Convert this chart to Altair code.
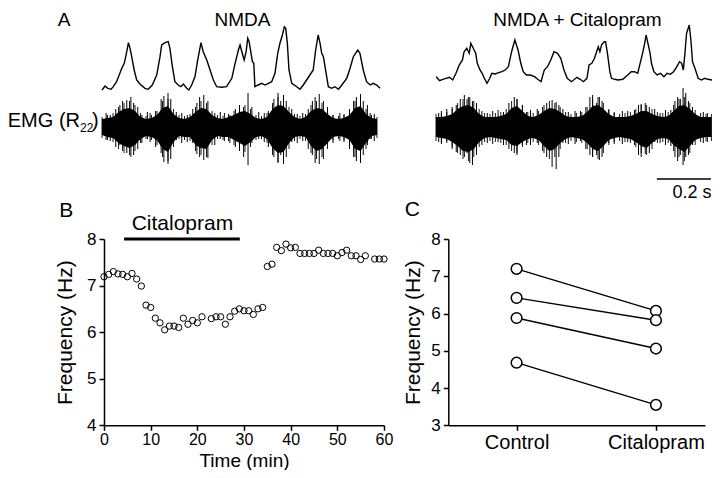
import altair as alt
import pandas as pd

FONT = "Liberation Sans"

# ---------------- Panel A: traces (time in ms, amplitude in arbitrary units) ----------------
nmda_time_ms = [0, 11, 21, 33, 41, 53, 65, 72, 81, 90, 96, 102, 108, 117, 126, 138, 156, 168, 183, 199,
                211, 217, 229, 241, 247, 256, 265, 277, 287, 296, 308, 316, 326, 338, 348, 360, 368, 381, 393, 405,
                417, 435, 453, 472, 484, 496, 502, 510, 517, 524, 530, 535, 542, 547, 552, 556, 568, 581, 593, 605,
                617, 629, 639, 647, 656, 663, 668, 674, 680, 690, 708, 720, 732, 744, 756, 768, 777, 786, 793, 799,
                805, 811, 823, 835, 847, 860, 872, 890, 902, 914, 930, 938, 950, 962, 975, 986, 999, 1011]
nmda_trace = [37, 41, 38.7, 37.7, 40.3, 45.3, 53.7, 58.7, 63.7, 75.3, 84.3, 78.7, 70.3, 57, 47, 43, 38.7, 37.7, 42, 52,
              70.3, 82, 84.3, 85.3, 78.7, 60.3, 45.3, 42, 40.3, 43, 38.7, 37, 42, 50.3, 67, 84.3, 75.3, 67, 57, 47,
              40.3, 39.7, 40.3, 48.7, 63.7, 77, 82, 73.7, 67, 75.3, 88.7, 85.3, 73.7, 65.3, 63.7, 40.3, 42, 43.7, 42, 43.7,
              45.3, 53.7, 73.7, 83.7, 92, 100.3, 98.7, 83.7, 57, 43.7, 40.3, 37.7, 42, 47, 52, 57, 77, 92, 83.7, 73.7,
              70.3, 60.3, 40.3, 38.7, 40.3, 37.7, 42, 48.7, 58.7, 70.3, 77, 73.7, 57, 45.3, 42, 43.7, 42, 38.7]

cit_time_ms = [1, 13, 25, 37, 50, 62, 74, 86, 98, 104, 114, 123, 129, 138, 147, 153, 163, 171, 179, 189,
               199, 207, 219, 232, 244, 256, 268, 280, 292, 304, 314, 323, 335, 349, 365, 377, 389, 401, 413, 425,
               437, 450, 462, 474, 486, 502, 522, 534, 546, 559, 567, 577, 587, 595, 601, 607, 613, 623, 628, 635,
               644, 650, 662, 674, 692, 710, 723, 735, 747, 756, 765, 773, 778, 785, 793, 798, 807, 819, 832, 844,
               856, 868, 880, 892, 902, 910, 916, 922, 928, 938, 944, 950, 959, 971, 983, 995, 1007, 1023]
cit_trace = [50.3, 46.3, 47.7, 48.7, 49.7, 47, 53.7, 62, 67, 75.3, 78.7, 73.7, 83.7, 78.7, 73.7, 63.7, 57, 53.7, 48.7, 43.7,
             48.7, 53.7, 53, 54.3, 55.3, 57, 60.3, 75.3, 87, 77, 63.7, 55.3, 52, 52, 50.3, 47.7, 45.3, 57, 60.3, 67,
             75.3, 73.7, 68.7, 57, 48.7, 45.3, 49.7, 47.7, 45.3, 48.7, 62, 63.7, 68.7, 75.3, 80.3, 75.3, 82, 85.3, 85.3, 73.7,
             55.3, 48.7, 47.7, 47, 47.7, 52, 55.3, 55.3, 53.7, 63.7, 73.7, 83.7, 92, 83.7, 73.7, 63.7, 55.3, 52, 53.7, 50.3,
             53.7, 52.7, 55.3, 60.3, 65.3, 63.7, 57, 73.7, 93.7, 102, 87, 65.3, 58.7, 48.7, 47, 48.7, 47.7, 47]

# EMG: outer extent of the trace every 20 ms, plus the dense solid core
emg_time_nmda = [0, 20, 40, 60, 80, 100, 120, 140, 160, 180, 200, 220, 240, 260, 280, 300, 320, 340, 360, 380,
                 400, 420, 440, 460, 480, 500, 520, 540, 560, 580, 600, 620, 640, 660, 680, 700, 720, 740, 760, 780,
                 800, 820, 840, 860, 880, 900, 920, 940, 960, 980, 1000]
emg_up_nmda = [10, 12, 14, 20, 24, 26, 22, 14, 11, 12, 16, 26, 28, 18, 12, 11, 13, 20, 26, 24,
               16, 12, 11, 13, 16, 20, 22, 18, 12, 11, 14, 24, 30, 28, 20, 13, 11, 13, 22, 26,
               24, 18, 12, 11, 12, 16, 26, 28, 18, 12, 10]
emg_lo_nmda = [-11, -13, -15, -22, -26, -28, -24, -16, -12, -13, -18, -30, -34, -20, -12, -13, -14, -24, -28, -30,
               -18, -12, -13, -14, -18, -22, -25, -20, -13, -12, -16, -28, -35, -33, -22, -14, -12, -14, -26, -32,
               -30, -22, -13, -12, -13, -18, -30, -32, -22, -12, -11]
core_up_nmda = [8, 9, 10, 15, 18, 19, 16, 10, 8, 9, 12, 19, 21, 13, 9, 8, 10, 15, 19, 18,
                12, 9, 8, 10, 12, 15, 16, 13, 9, 8, 10, 18, 22, 21, 15, 10, 8, 10, 16, 19,
                18, 13, 9, 8, 9, 12, 19, 21, 13, 9, 8]
core_lo_nmda = [-8, -10, -11, -16, -19, -21, -18, -12, -9, -10, -13, -22, -25, -15, -9, -10, -10, -18, -21, -22,
                -13, -9, -10, -10, -13, -16, -19, -15, -10, -9, -12, -21, -26, -25, -16, -10, -9, -10, -19, -24,
                -22, -16, -10, -9, -10, -13, -22, -24, -16, -9, -8]
spike_t_nmda = [15, 50, 75, 90, 105, 115, 130, 175, 215, 225, 240, 250, 290, 345, 355, 370, 385, 445, 500,
                515, 531, 590, 625, 640, 660, 670, 730, 765, 775, 790, 805, 865, 915, 925, 940, 950, 990,
                30, 65, 145, 165, 195, 270, 310, 330, 410, 430, 465, 485, 545, 570, 605, 650, 690, 710,
                750, 820, 840, 880, 900, 965, 975]
spike_hi_nmda = [14, 18, 26, 27, 30, 24, 20, 14, 28, 31, 34, 28, 14, 24, 30, 32, 26, 14, 22,
                 20, 34, 14, 28, 34, 32, 26, 14, 26, 30, 33, 26, 14, 26, 30, 33, 26, 13,
                 12, 22, 12, 15, 16, 15, 12, 18, 14, 15, 12, 18, 20, 15, 16, 26, 18, 13,
                 18, 20, 12, 13, 18, 22, 14]
spike_lo_nmda = [-13, -20, -24, -26, -30, -28, -22, -15, -26, -35, -37, -32, -16, -27, -30, -33, -31, -14, -24,
                 -30, -38, -15, -30, -36, -37, -30, -14, -28, -36, -37, -32, -14, -30, -34, -36, -28, -14,
                 -14, -18, -16, -12, -20, -13, -15, -16, -18, -12, -16, -20, -16, -12, -20, -28, -15, -16,
                 -22, -16, -16, -15, -22, -18, -12]

emg_time_cit = [0, 20, 40, 60, 80, 100, 120, 140, 160, 180, 200, 220, 240, 260, 280, 300, 320, 340, 360, 380,
                400, 420, 440, 460, 480, 500, 520, 540, 560, 580, 600, 620, 640, 660, 680, 700, 720, 740, 760, 780,
                800, 820, 840, 860, 880, 900, 920, 940, 960, 980, 1000, 1020]
emg_up_cit = [13, 14, 15, 18, 24, 28, 30, 26, 18, 14, 13, 14, 15, 18, 26, 28, 22, 15, 14, 16,
              22, 26, 24, 20, 15, 13, 14, 15, 20, 28, 30, 24, 17, 14, 13, 14, 15, 18, 22, 22,
              18, 15, 14, 15, 22, 28, 30, 24, 17, 14, 13, 13]
emg_lo_cit = [-14, -15, -16, -20, -26, -32, -34, -30, -20, -15, -14, -15, -16, -18, -24, -26, -20, -16, -15, -18,
              -26, -32, -30, -22, -16, -14, -15, -16, -22, -30, -32, -26, -18, -15, -14, -15, -16, -20, -26, -28,
              -22, -16, -15, -16, -24, -30, -34, -26, -18, -15, -14, -14]
core_up_cit = [10, 10, 11, 13, 18, 21, 22, 19, 13, 10, 10, 10, 11, 13, 19, 21, 16, 11, 10, 12,
               16, 19, 18, 15, 11, 10, 10, 11, 15, 21, 22, 18, 13, 10, 10, 10, 11, 13, 16, 16,
               13, 11, 10, 11, 16, 21, 22, 18, 13, 10, 10, 10]
core_lo_cit = [-10, -11, -12, -15, -19, -24, -25, -22, -15, -11, -10, -11, -12, -13, -18, -19, -15, -12, -11, -13,
               -19, -24, -22, -16, -12, -10, -11, -12, -16, -22, -24, -19, -13, -11, -10, -11, -12, -15, -19, -21,
               -16, -12, -11, -12, -18, -22, -25, -19, -13, -11, -10, -10]
spike_t_cit = [20, 60, 90, 105, 125, 135, 150, 210, 270, 290, 300, 350, 410, 430, 445, 455, 515, 570, 580,
               605, 615, 690, 750, 760, 790, 850, 885, 895, 915, 925, 935, 990,
               10, 40, 75, 115, 170, 190, 230, 250, 320, 335, 375, 395, 470, 490, 535, 555, 595, 640,
               660, 710, 735, 775, 810, 830, 870, 905, 950, 1005]
spike_hi_cit = [16, 20, 28, 32, 30, 26, 24, 16, 24, 30, 28, 17, 24, 27, 25, 22, 16, 30, 32,
                30, 26, 16, 22, 23, 20, 17, 26, 30, 39, 34, 26, 15,
                14, 18, 22, 28, 16, 14, 17, 15, 22, 15, 18, 20, 18, 15, 16, 20, 24, 18,
                15, 16, 17, 24, 18, 14, 17, 28, 20, 14]
spike_lo_cit = [-17, -22, -28, -30, -36, -38, -28, -17, -22, -26, -28, -18, -30, -40, -42, -30, -17, -28, -30,
                -33, -30, -17, -28, -30, -26, -18, -30, -34, -38, -30, -28, -16,
                -15, -14, -25, -26, -18, -16, -15, -18, -18, -18, -16, -24, -16, -17, -14, -22, -28, -16,
                -17, -15, -18, -27, -15, -16, -19, -28, -18, -15]

scalebar_ms = [818, 1018]  # 0.2 s

# ---------------- Panel B: frequency time course ----------------
time_min = [0, 1, 2, 3, 4, 5, 6, 7, 8, 9, 10, 11, 12, 13, 14, 15, 16, 17, 18, 19, 20, 21,
            23, 24, 25, 26, 27, 28, 29, 30, 31, 32, 33, 34, 35, 36, 37, 38, 39, 40,
            41, 42, 43, 44, 45, 46, 47, 48, 49, 50, 51, 52, 53, 54, 55, 56, 58, 59, 60]
freq_hz = [7.19, 7.24, 7.30, 7.25, 7.24, 7.19, 7.26, 7.14, 6.99, 6.58, 6.53, 6.30, 6.20, 6.05, 6.13, 6.13, 6.10,
           6.30, 6.17, 6.25, 6.20, 6.33,
           6.29, 6.33, 6.33, 6.17, 6.33, 6.45, 6.50, 6.46, 6.46, 6.38, 6.50, 6.53, 7.41, 7.46, 7.82, 7.75, 7.89, 7.81,
           7.82, 7.69, 7.69, 7.69, 7.69, 7.76, 7.69, 7.69, 7.69, 7.64, 7.71, 7.76, 7.64, 7.64, 7.56, 7.64, 7.57, 7.57, 7.57]
drug_start_min = [4.3]
drug_end_min = [29.1]
drug_level_hz = [8.0]

# ---------------- Panel C: paired comparison ----------------
subjects = ["s1", "s2", "s3", "s4"]
control_hz = [7.20, 6.42, 5.88, 4.68]
citalopram_hz = [6.07, 5.82, 5.06, 3.55]
condition_names = ["Control", "Citalopram"]

# ---------------- scales (explicit domains and pixel ranges) ----------------
AL_X = alt.Scale(domain=[0, 1000], range=[94, 369], nice=False, zero=False)
AR_X = alt.Scale(domain=[0, 1000], range=[428, 698], nice=False, zero=False)
A_Y = alt.Scale(domain=[-60, 125], range=[179, -6], nice=False, zero=False)
B_X = alt.Scale(domain=[0, 60], range=[96, 376], nice=False, zero=False)
B_Y = alt.Scale(domain=[4, 8], range=[417.3, 231], nice=False, zero=False)
C_X = alt.Scale(domain=[-0.49, 1.352], range=[440.3, 697], nice=False, zero=False)
C_Y = alt.Scale(domain=[3, 8], range=[417.3, 231], nice=False, zero=False)

ONE = pd.DataFrame({"d": [0]})


def text_layer(txt, x, y, xs, ys, size=21, align="center", baseline="middle"):
    return alt.Chart(ONE).mark_text(text=txt, font=FONT, fontSize=size, align=align,
                                    baseline=baseline, color="black").encode(
        x=alt.X(datum=x, type="quantitative", scale=xs, axis=None),
        y=alt.Y(datum=y, type="quantitative", scale=ys, axis=None),
    )


def trace_layers(t, v, et, eu, el, cu, cl, st, sh, sl, xs):
    line = alt.Chart(pd.DataFrame({"t": t, "v": v})).mark_line(color="black", strokeWidth=1.4).encode(
        x=alt.X("t:Q", scale=xs, axis=None), y=alt.Y("v:Q", scale=A_Y, axis=None))
    core = alt.Chart(pd.DataFrame({"t": et, "up": cu, "lo": cl})).mark_area(color="black", interpolate="linear").encode(
        x=alt.X("t:Q", scale=xs, axis=None), y=alt.Y("up:Q", scale=A_Y, axis=None), y2="lo:Q")
    outer = alt.Chart(pd.DataFrame({"t": et, "hi": eu, "lo": el})).mark_rule(color="black", strokeWidth=0.9).encode(
        x=alt.X("t:Q", scale=xs, axis=None), y=alt.Y("hi:Q", scale=A_Y, axis=None), y2="lo:Q")
    spikes = alt.Chart(pd.DataFrame({"t": st, "hi": sh, "lo": sl})).mark_rule(color="black", strokeWidth=1).encode(
        x=alt.X("t:Q", scale=xs, axis=None), y=alt.Y("hi:Q", scale=A_Y, axis=None), y2="lo:Q")
    return [line, core, outer, spikes]


layers = []
layers += trace_layers(nmda_time_ms, nmda_trace, emg_time_nmda, emg_up_nmda, emg_lo_nmda,
                       core_up_nmda, core_lo_nmda, spike_t_nmda, spike_hi_nmda, spike_lo_nmda, AL_X)
layers += trace_layers(cit_time_ms, cit_trace, emg_time_cit, emg_up_cit, emg_lo_cit,
                       core_up_cit, core_lo_cit, spike_t_cit, spike_hi_cit, spike_lo_cit, AR_X)

scalebar = alt.Chart(pd.DataFrame({"s": [scalebar_ms[0]], "e": [scalebar_ms[1]], "y": [-52]})).mark_rule(
    color="black", strokeWidth=1.5).encode(
    x=alt.X("s:Q", scale=AR_X, axis=None), x2="e:Q", y=alt.Y("y:Q", scale=A_Y, axis=None))
layers.append(scalebar)

layers += [
    text_layer("A", -138, 101.5, AL_X, A_Y, size=19, baseline="alphabetic"),
    text_layer("NMDA", 511, 101.5, AL_X, A_Y, size=19, baseline="alphabetic"),
    text_layer("NMDA + Citalopram", 524, 101.5, AR_X, A_Y, size=19, baseline="alphabetic"),
    text_layer("EMG (R", -80, 0, AL_X, A_Y, size=20, align="right", baseline="alphabetic"),
    text_layer("22", -80, -4.5, AL_X, A_Y, size=12, align="left", baseline="alphabetic"),
    text_layer(")", -36, 0, AL_X, A_Y, size=20, align="left", baseline="alphabetic"),
    text_layer("0.2 s", 948, -65.5, AR_X, A_Y, size=18),
]

# Panel B
b_points = alt.Chart(pd.DataFrame({"t": time_min, "f": freq_hz})).mark_point(
    shape="circle", filled=False, color="black", size=40, strokeWidth=1, opacity=1).encode(
    x=alt.X("t:Q", scale=B_X, axis=alt.Axis(orient="bottom", offset=-44.7, values=[0, 10, 20, 30, 40, 50, 60],
                                            title="Time (min)", labelPadding=1, labelFontSize=16,
                                            titleFontSize=19, titleY=41, titleBaseline="alphabetic",
                                            labelFlush=False, labelOverlap=False)),
    y=alt.Y("f:Q", scale=B_Y, axis=alt.Axis(orient="left", offset=-96,
                                            values=[4, 4.5, 5, 5.5, 6, 6.5, 7, 7.5, 8], format="d",
                                            labelExpr="datum.value % 1 === 0 ? datum.label : ''",
                                            title="Frequency (Hz)", labelPadding=3, titlePadding=11,
                                            labelOverlap=False, labelFlush=False)),
)
b_bar = alt.Chart(pd.DataFrame({"s": drug_start_min, "e": drug_end_min, "y": drug_level_hz})).mark_rule(
    color="black", strokeWidth=3).encode(
    x=alt.X("s:Q", scale=B_X, axis=None), x2="e:Q", y=alt.Y("y:Q", scale=B_Y, axis=None))
layers += [b_points, b_bar,
           text_layer("Citalopram", 16.8, 8.315, B_X, B_Y, size=21),
           text_layer("B", -8.1, 8.61, B_X, B_Y, size=21)]

# Panel C
c_rows = []
for s, a, b in zip(subjects, control_hz, citalopram_hz):
    c_rows.append({"subject": s, "cond": 0, "hz": a})
    c_rows.append({"subject": s, "cond": 1, "hz": b})
c_df = pd.DataFrame(c_rows)
label_expr = "datum.value === 0 ? '%s' : '%s'" % (condition_names[0], condition_names[1])
c_lines = alt.Chart(c_df).mark_line(color="black", strokeWidth=1.4).encode(
    x=alt.X("cond:Q", scale=C_X, axis=alt.Axis(orient="bottom", offset=-44.7, values=[0, 1], labelExpr=label_expr,
                                               title=None, labelFontSize=20, labelPadding=2,
                                               labelFlush=False, labelOverlap=False)),
    y=alt.Y("hz:Q", scale=C_Y, axis=alt.Axis(orient="left", offset=-440.3, values=[3, 4, 5, 6, 7, 8], format="d",
                                             title="Frequency (Hz)", labelPadding=3, titlePadding=7,
                                             labelOverlap=False, labelFlush=False)),
    detail="subject:N",
)
c_points = alt.Chart(c_df).mark_point(shape="circle", filled=True, fill="white", stroke="black",
                                      size=115, strokeWidth=1.5, opacity=1).encode(
    x=alt.X("cond:Q", scale=C_X, axis=None), y=alt.Y("hz:Q", scale=C_Y, axis=None))
layers += [c_lines, c_points, text_layer("C", -0.748, 8.78, C_X, C_Y, size=21)]

chart = alt.layer(*layers).resolve_scale(x="independent", y="independent").properties(
    width=704, height=462, autosize=alt.AutoSizeParams(type="none"), padding=0
).configure_view(stroke=None).configure_axis(
    grid=False, domainColor="black", tickColor="black", labelColor="black", titleColor="black",
    labelFont=FONT, titleFont=FONT, titleFontWeight="normal", domainWidth=1.5, tickWidth=1.5,
    tickSize=5, labelFontSize=17, titleFontSize=21,
)

chart.save("out.html", embed_options={"renderer": "svg", "actions": False})
